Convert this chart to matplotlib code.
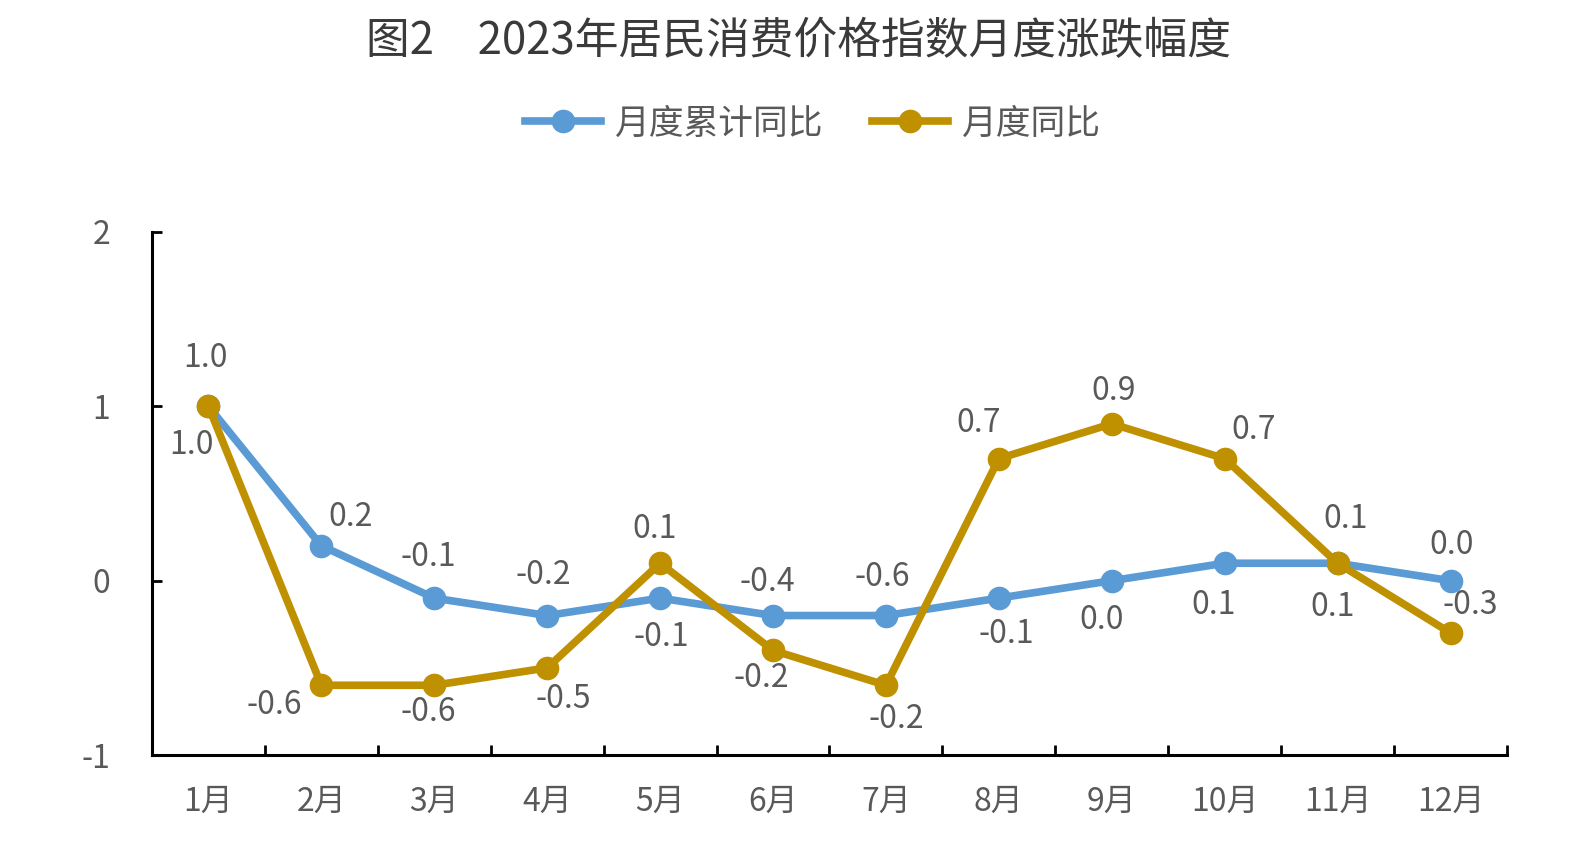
import matplotlib
matplotlib.use("Agg")
import matplotlib.pyplot as plt
from matplotlib.lines import Line2D

plt.rcParams['font.family'] = ['Noto Sans CJK SC', 'DejaVu Sans']

months = ["1月", "2月", "3月", "4月", "5月", "6月", "7月", "8月", "9月", "10月", "11月", "12月"]
cumulative = [1.0, 0.2, -0.1, -0.2, -0.1, -0.2, -0.2, -0.1, 0.0, 0.1, 0.1, 0.0]
monthly = [1.0, -0.6, -0.6, -0.5, 0.1, -0.4, -0.6, 0.7, 0.9, 0.7, 0.1, -0.3]
series_names = ["月度累计同比", "月度同比"]
title = "图2\u30002023年居民消费价格指数月度涨跌幅度"

# label offsets (pixels) — style only
S = 1.014
cum_off = [(-17, -38), (29, 28), (-6, 41), (-4, 40), (1, -38), (-12, -62),
           (10, -102), (7, -35), (-10, -39), (-11, -41), (-5, -43), (1, 35)]
mon_off = [(-3, 48), (-46, -19), (-6, -26), (16, -31), (-5, 34), (-6, 67),
           (-4, 107), (-20, 35), (2, 32), (29, 28), (8, 44), (19, 28)]

blue = "#5B9BD5"
gold = "#BF9000"
gray = "#595959"

W, H = 1590, 858
fig = plt.figure(figsize=(W / 100, H / 100), dpi=100)
ax = fig.add_axes([152 / W, (H - 755) / H, (1507 - 152) / W, (755 - 232) / H])

x = list(range(1, len(months) + 1))
ax.plot(x, cumulative, color=blue, lw=5.5, marker='o', ms=16, solid_capstyle='round', zorder=3)
ax.plot(x, monthly, color=gold, lw=5.5, marker='o', ms=16, solid_capstyle='round', zorder=4)

for xi, v, off in zip(x, cumulative, cum_off):
    ax.annotate(f"{v:.1f}", (xi, v), xytext=(off[0] * S, off[1] * S), textcoords='offset pixels',
                ha='center', va='center', fontsize=23, color=gray, zorder=5)
for xi, v, off in zip(x, monthly, mon_off):
    ax.annotate(f"{v:.1f}", (xi, v), xytext=(off[0] * S, off[1] * S), textcoords='offset pixels',
                ha='center', va='center', fontsize=23, color=gray, zorder=5)

ax.set_xlim(0.5, len(months) + 0.5)
ax.set_ylim(-1, 2)
ax.set_yticks([-1, 0, 1, 2])
ax.set_yticklabels(["-1", "0", "1", "2"])
ax.set_xticks(x)
ax.set_xticklabels(months)
ax.set_xticks([i + 0.5 for i in range(0, len(months) + 1)], minor=True)

for s in ['top', 'right']:
    ax.spines[s].set_visible(False)
for s in ['left', 'bottom']:
    ax.spines[s].set_linewidth(2.2)
    ax.spines[s].set_color('black')

ax.tick_params(axis='y', direction='in', length=7, width=2, pad=30,
               labelsize=23, labelcolor=gray)
ax.tick_params(axis='x', which='major', length=0, pad=22, labelsize=23, labelcolor=gray)
ax.tick_params(axis='x', which='minor', direction='in', length=7, width=2)

fig.text(799 / W, 1 - 41 / H, title, ha='center', va='center',
         fontsize=31.5, color="#3a3a3a")

handles = [Line2D([], [], color=blue, lw=5.5, marker='o', ms=16),
           Line2D([], [], color=gold, lw=5.5, marker='o', ms=16)]
fig.legend(handles, series_names, loc='center', bbox_to_anchor=(813 / W, 1 - 124 / H),
           ncol=2, frameon=False, fontsize=25, labelcolor=gray,
           handlelength=2.2, handletextpad=0.4, columnspacing=1.4)

fig.savefig("out.png", dpi=100, facecolor='white')
